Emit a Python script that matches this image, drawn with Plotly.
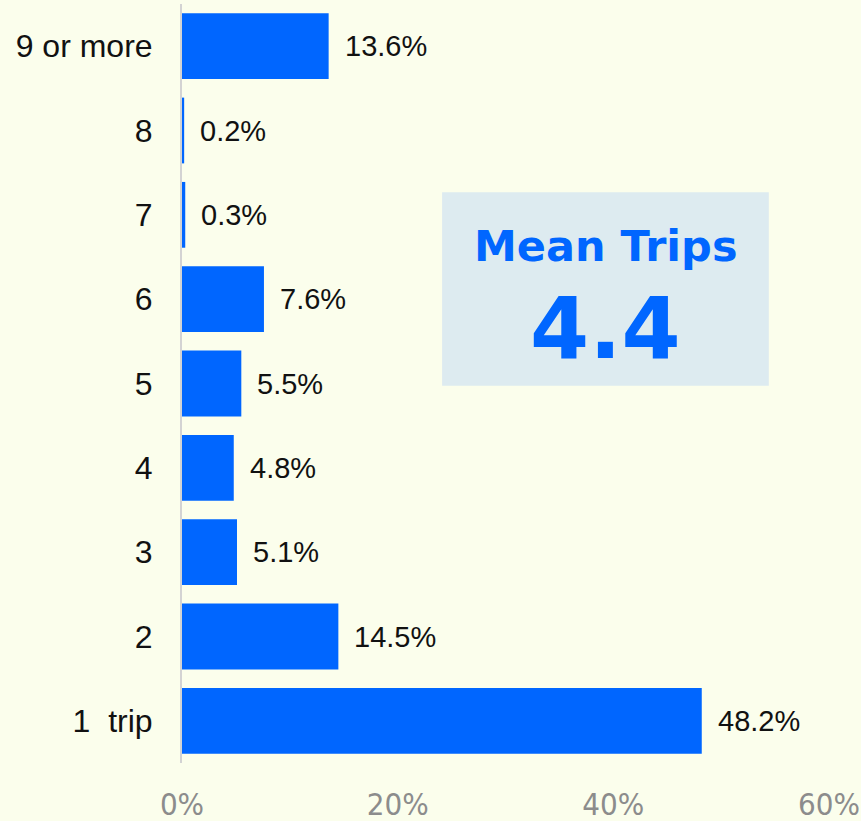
import plotly.graph_objects as go

categories = ["1\u00a0 trip", "2", "3", "4", "5", "6", "7", "8", "9 or more"]
values = [48.2, 14.5, 5.1, 4.8, 5.5, 7.6, 0.3, 0.2, 13.6]
value_labels = ["48.2%", "14.5%", "5.1%", "4.8%", "5.5%", "7.6%", "0.3%", "0.2%", "13.6%"]
x_ticks = [0, 20, 40, 60]
x_tick_labels = ["0%", "20%", "40%", "60%"]
mean_title = "Mean Trips"
mean_value = "4.4"

BG = "#FBFEEC"
BLUE = "#0066FF"

positions = list(range(len(categories)))

fig = go.Figure()
fig.add_trace(go.Bar(
    y=positions, x=values, orientation="h",
    marker=dict(color=BLUE, line=dict(width=0)),
    hoverinfo="skip",
))

for p, v, t in zip(positions, values, value_labels):
    fig.add_annotation(x=v, y=p, xref="x", yref="y", text=t, showarrow=False,
                       xanchor="left", yanchor="middle", xshift=14,
                       font=dict(family="Liberation Sans, Arial, sans-serif", size=29, color="#111111"))

# Mean box
fig.add_shape(type="rect", xref="paper", yref="paper", x0=0.402, x1=0.907, y0=0.497, y1=0.752,
              fillcolor="#DDEBF0", line=dict(width=0), layer="above")
fig.add_annotation(xref="paper", yref="paper", x=0.6545, y=0.681, text=f"<b>{mean_title}</b>",
                   showarrow=False, xanchor="center", yanchor="middle",
                   font=dict(family="DejaVu Sans, sans-serif", size=43, color=BLUE))
fig.add_annotation(xref="paper", yref="paper", x=0.6545, y=0.573, text=f"<b>{mean_value}</b>",
                   showarrow=False, xanchor="center", yanchor="middle",
                   font=dict(family="DejaVu Sans, sans-serif", size=85, color=BLUE))

fig.update_layout(
    width=861, height=821,
    margin=dict(l=182, r=32, t=4, b=58, autoexpand=False),
    paper_bgcolor=BG, plot_bgcolor=BG,
    bargap=0.22,
    showlegend=False,
)
fig.update_xaxes(range=[0, 60], tickvals=x_ticks, ticktext=x_tick_labels,
                 showgrid=False, zeroline=False, showline=False, ticks="",
                 automargin=False, ticklabelstandoff=20,
                 tickfont=dict(family="DejaVu Sans Condensed, Liberation Sans Narrow, Liberation Sans, sans-serif",
                               size=31, color="#8C8C8C"))
fig.update_yaxes(showgrid=False, zeroline=False, showline=True, linecolor="#D3D3D3", linewidth=2,
                 ticks="", ticklabelstandoff=21, range=[-0.5, 8.5], automargin=False,
                 tickvals=positions, ticktext=categories,
                 tickfont=dict(family="Liberation Sans, Arial, sans-serif", size=32, color="#111111"))

fig.write_html("out.html", config={"displayModeBar": False},
               post_script="document.body.style.margin='0';document.body.style.padding='0';")
